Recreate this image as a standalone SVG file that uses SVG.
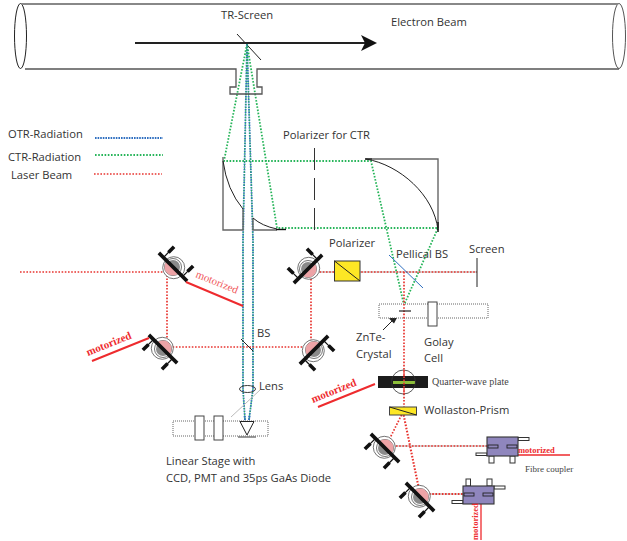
<svg xmlns="http://www.w3.org/2000/svg" width="627" height="541" viewBox="0 0 627 541">
<style>
text{font-family:"Open Sans","Liberation Sans",sans-serif;font-size:11.2px;fill:#333}
.s{font-family:"Liberation Serif",serif;fill:#444}
.m{font-family:"Liberation Serif",serif;font-weight:bold;fill:#ee2b2e}
.k{fill:none;stroke:#222;stroke-width:1}
.g{fill:none;stroke:#666;stroke-width:1.4}
.blue{fill:none;stroke:#2f6fc0;stroke-width:1.8;stroke-dasharray:1.6 1}
.green{fill:none;stroke:#27b55a;stroke-width:1.8;stroke-dasharray:1.6 1.6}
.red{fill:none;stroke:#e8342f;stroke-width:1.7;stroke-dasharray:1.6 1.6}
.rl{fill:none;stroke:#ee2b2e;stroke-width:2}
.st{fill:#fff;stroke:#555;stroke-width:.9;stroke-dasharray:1 1}
.b{fill:#fff;stroke:#444;stroke-width:1}
.tab{fill:#fff;stroke:#333;stroke-width:1}
.box{fill:#8f86bd;stroke:#333;stroke-width:1.1}
.slot{fill:#8f86bd;stroke:#222;stroke-width:.9}
</style>
<defs>
<g id="mirror">
<circle cx="1" cy="0" r="11" fill="#fff" stroke="#444" stroke-width=".7"/>
<circle r="8.500" fill="#fff" stroke="#444" stroke-width=".7"/>
<path d="M-7 0A7 7 0 0 1 7 0Z" fill="#8a8a8a"/>
<path d="M-8.500 0A8.500 8.500 0 0 0 8.500 0Z" fill="#eda3a6"/>
<path d="M-20 0H20" stroke="#111" stroke-width="3.600"/>
<path d="M-13.500 0V-8M13.500 0V-8" stroke="#111" stroke-width="1.200"/>
<path d="M-13.500 -7V-15M13.500 -7V-15" stroke="#111" stroke-width="3.600"/>
</g>
</defs>
<g id="connectors">
<path class="k" d="M237 34L261 60" />
<path class="green" d="M247 44L224 161H371L404 305L438 228H277L247 44"/>
<path class="blue" d="M247 44L243 240V389L245 420M247 44L253 240V389L249 420"/>
<path class="green" stroke-dashoffset="1" d="M247 44L243 240V389L245 420M247 44L253 240V389L249 420" style="stroke-width:1"/>
<path d="M310 272H477M386 446H487M420 494H463" stroke="#777" stroke-width=".6" fill="none"/>
<path class="red" d="M20 272H172M167 272V347M163 347H311V272M310 272H477M404 272V412M403 412L386 446H487"/>
<path class="red" style="stroke-width:2.100" d="M403 412L420 494H463"/>
<path class="blue" d="M95 138H163"/>
<path class="green" d="M95 155H163"/>
<path class="red" d="M94 174H162"/>
<path d="M383 330L395 318" stroke="#222" fill="none"/>
<path d="M399 314L389 318.500L394 323.500Z" fill="#222"/>
</g>
<g id="pipe">
<ellipse cx="20.500" cy="36" rx="6" ry="32.500" fill="none" stroke="#222" stroke-width="1"/>
<ellipse cx="619" cy="36" rx="6.500" ry="32.500" fill="none" stroke="#555" stroke-width="1"/>
<path d="M21 4H618" stroke="#888" stroke-width="2" fill="none"/>
<path d="M25 69H236V87H230V94H262V87H257V69H619" fill="none" stroke="#555" stroke-width="1.300"/>
</g>
<g id="beam">
<path d="M135 43H365" stroke="#222" stroke-width="2"/>
<path d="M361 35L377 43L361 51L365 43Z" fill="#111"/>
</g>
<g id="left-mirror-upper">
<path class="g" d="M223 157V230H243V209"/>
<path class="k" d="M223 161Q227 190 243 209"/>
</g>
<g id="left-mirror-lower">
<path class="g" d="M253 218V230H277"/>
<path d="M276 229.500H286" stroke="#111" stroke-width="1.400"/>
<path class="k" d="M253 218Q262 226 277 229"/>
</g>
<g id="right-mirror">
<path class="g" d="M372 159H438V228"/>
<path d="M365 159H372M438 222V232" stroke="#111" stroke-width="1.500"/>
<path class="k" d="M366 159C400 165 434 195 438 230"/>
</g>
<g id="polarizer-ctr">
<path d="M314.500 148V230" stroke="#333" stroke-width="1" stroke-dasharray="22 8" fill="none"/>
</g>
<g id="polarizer">
<rect x="334.500" y="261" width="25.500" height="20" fill="#fde725" stroke="#333" stroke-width="1"/>
<path class="k" d="M334.500 261L360 281"/>
</g>
<g id="pellicle"><path d="M389 255L423 288" stroke="#2f6fc0" stroke-width="1" fill="none"/></g>
<g id="screen"><path class="k" d="M477 258V287"/></g>
<g id="golay-stage">
<rect class="st" x="379" y="304" width="109" height="14"/>
<rect class="b" x="428" y="302" width="9" height="24"/>
<path class="red" d="M404 304V318"/>
<path d="M399 311H411" stroke="#222" stroke-width="1.200"/>
</g>
<g id="bs"><path class="k" d="M241 339L253 351"/></g>
<g id="lens">
<path d="M260 390L231 417" stroke="#bbb" stroke-width="1" fill="none"/>
<ellipse cx="247.500" cy="389" rx="8" ry="3.500" fill="none" stroke="#222" stroke-width=".9"/>
</g>
<g id="linear-stage">
<rect class="st" x="173" y="421" width="95" height="15"/>
<rect class="b" x="195" y="416" width="9" height="24"/>
<rect class="b" x="214" y="416" width="9" height="24"/>
<path class="blue" d="M244.600 416L245 421M249.400 416L249 421"/>
<path d="M240 421.500H254L247 435Z" fill="#fff" stroke="#222"/>
<path d="M238 437H256" stroke="#777" stroke-width="1.500"/>
</g>
<g id="mirror-1"><use href="#mirror" transform="translate(173 267) rotate(45)"/></g>
<g id="mirror-2"><use href="#mirror" transform="translate(163 349) rotate(225)"/></g>
<g id="mirror-3"><use href="#mirror" transform="translate(308 269) rotate(-45)"/></g>
<g id="mirror-4"><use href="#mirror" transform="translate(314 350) rotate(135)"/></g>
<g id="mirror-5"><use href="#mirror" transform="translate(385 448) rotate(225)"/></g>
<g id="mirror-6"><use href="#mirror" transform="translate(420 497) rotate(225)"/></g>
<g id="motor-lines">
<path class="rl" d="M186 282L243 306M92 361L149 338M318 407L375 384"/>
<path d="M518 455H570M481 503V540" stroke="#ee2b2e" stroke-width="1.300" fill="none"/>
</g>
<g id="quarter-wave">
<rect x="378" y="376" width="50" height="12" fill="#1c1c1c"/>
<rect x="393" y="381" width="22" height="3" fill="#8dbf3a"/>
<circle cx="403.500" cy="382" r="12" fill="none" stroke="#333" stroke-width=".8"/>
<path class="red" d="M404 370V394"/>
</g>
<g id="wollaston">
<rect x="389.500" y="407" width="27" height="8" fill="#fde725" stroke="#444"/>
<path class="k" d="M389.500 407L416.500 415"/>
</g>
<g id="coupler-1">
<rect class="tab" x="518" y="437.500" width="11" height="3"/>
<rect class="tab" x="476" y="453" width="11" height="2.500"/>
<rect class="tab" x="489" y="456" width="5" height="7"/>
<rect class="tab" x="510" y="456" width="5" height="7"/>
<rect class="box" x="487" y="437" width="31" height="19"/>
<rect class="slot" x="488" y="445" width="10" height="3"/>
<rect class="slot" x="507" y="445" width="10" height="3"/>
</g>
<g id="coupler-2">
<rect class="tab" x="466" y="479" width="4.500" height="7"/>
<rect class="tab" x="487" y="479" width="5" height="7"/>
<rect class="tab" x="494" y="486" width="11" height="3"/>
<rect class="tab" x="452" y="500.500" width="11" height="3"/>
<rect class="box" x="463" y="486" width="31" height="18"/>
<rect class="slot" x="464" y="493" width="10" height="3"/>
<rect class="slot" x="483" y="493" width="10" height="3"/>
</g>
<g id="labels">
<text x="221" y="19">TR-Screen</text>
<text x="391" y="26">Electron Beam</text>
<text x="8" y="138">OTR-Radiation</text>
<text x="8" y="161">CTR-Radiation</text>
<text x="11" y="179">Laser Beam</text>
<text x="283" y="139">Polarizer for CTR</text>
<text x="329" y="247">Polarizer</text>
<text x="396" y="258">Pellical BS</text>
<text x="469" y="253">Screen</text>
<text x="356" y="341">ZnTe-</text>
<text x="356" y="358">Crystal</text>
<text x="424" y="346">Golay</text>
<text x="424" y="362">Cell</text>
<text x="257" y="337">BS</text>
<text x="259" y="390">Lens</text>
<text x="166" y="465">Linear Stage with</text>
<text x="166" y="482">CCD, PMT and 35ps GaAs Diode</text>
<text x="424" y="414">Wollaston-Prism</text>
<text class="s" x="432" y="385" style="font-size:10px">Quarter-wave plate</text>
<text class="s" x="525" y="472" style="font-size:9px">Fibre coupler</text>
<text class="m" transform="translate(195 277) rotate(22)" style="font-size:11px;font-weight:normal;fill:#f0575a">motorized</text>
<text class="m" transform="translate(88 356) rotate(-22)" style="font-size:11px">motorized</text>
<text class="m" transform="translate(313 403) rotate(-22)" style="font-size:11px">motorized</text>
<text class="m" x="518" y="453" style="font-size:8.500px">motorized</text>
<text class="m" transform="translate(478 540) rotate(-90)" style="font-size:8.500px">motorized</text>
</g>
</svg>
